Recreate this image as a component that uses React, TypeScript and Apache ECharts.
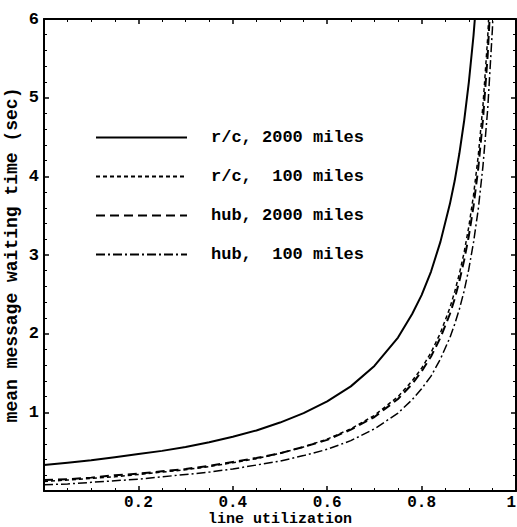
import React, { useEffect, useRef } from "react";
import * as echarts from "echarts";

const utilization = [0, 0.05, 0.1, 0.15, 0.2, 0.25, 0.3, 0.35, 0.4, 0.45, 0.5, 0.55, 0.6, 0.65, 0.7, 0.75, 0.78, 0.8, 0.82, 0.84, 0.86, 0.87, 0.88, 0.89, 0.9, 0.91, 0.92, 0.93, 0.94, 0.95, 0.96];

const rc2000 = [0.33, 0.36, 0.39, 0.43, 0.47, 0.51, 0.56, 0.62, 0.69, 0.77, 0.87, 0.99, 1.14, 1.33, 1.59, 1.95, 2.25, 2.49, 2.79, 3.17, 3.65, 3.94, 4.29, 4.7, 5.19, 5.79, 6.54];
const rc100 = [0.12, 0.14, 0.16, 0.18, 0.21, 0.24, 0.27, 0.31, 0.36, 0.41, 0.48, 0.56, 0.66, 0.79, 0.96, 1.2, 1.4, 1.56, 1.76, 2.01, 2.33, 2.53, 2.76, 3.03, 3.36, 3.76, 4.26, 4.9, 5.76, 6.96];
const hub2000 = [0.14, 0.15, 0.17, 0.2, 0.22, 0.25, 0.28, 0.32, 0.37, 0.42, 0.48, 0.56, 0.65, 0.78, 0.94, 1.17, 1.36, 1.52, 1.71, 1.95, 2.25, 2.44, 2.67, 2.93, 3.24, 3.62, 4.1, 4.72, 5.54, 6.69];
const hub100 = [0.08, 0.09, 0.11, 0.13, 0.15, 0.18, 0.21, 0.24, 0.28, 0.33, 0.38, 0.45, 0.53, 0.64, 0.79, 0.99, 1.16, 1.3, 1.46, 1.68, 1.95, 2.12, 2.31, 2.54, 2.82, 3.16, 3.58, 4.13, 4.85, 5.87, 7.4];

const seriesNames = ["r/c, 2000 miles", "r/c,  100 miles", "hub, 2000 miles", "hub,  100 miles"];
const seriesValues = [rc2000, rc100, hub2000, hub100];
const dashStyles: any[] = ["solid", [4, 3], [9, 5], [9, 3, 2, 3]];
const lineWidths = [2, 1.5, 2, 1.5];

const FONT = "'Liberation Mono', 'DejaVu Sans Mono', monospace";

export default function App() {
  const ref = useRef<HTMLDivElement>(null);
  useEffect(() => {
    if (!ref.current) return;
    const chart = echarts.init(ref.current, null, { renderer: "svg" });
    const labelStyle = { color: "#000", fontFamily: FONT, fontWeight: "bold" as const, fontSize: 17 };
    const frameAxis = {
      axisLine: { show: true, onZero: false, lineStyle: { color: "#000", width: 2 } },
      axisTick: { show: true, inside: true, length: 5, lineStyle: { color: "#000", width: 1.5 } },
      splitLine: { show: false },
      minorSplitLine: { show: false },
    };
    chart.setOption({
      animation: false,
      backgroundColor: "#fff",
      grid: { left: 44, right: 1, top: 19, bottom: 36, containLabel: false, outerBoundsMode: "none" },
      legend: {
        orient: "vertical",
        left: 90,
        top: 124,
        itemWidth: 91,
        itemHeight: 14,
        itemGap: 22,
        selectedMode: false,
        data: seriesNames,
        itemStyle: { opacity: 0 },
        textStyle: { ...labelStyle, fontSize: 17, lineHeight: 14, padding: [0, 0, 0, 19] },
      },
      xAxis: [
        {
          type: "value",
          min: 0,
          max: 1,
          interval: 0.2,
          name: "line utilization",
          nameLocation: "middle",
          nameGap: 21,
          nameMoveOverlap: false,
          nameTextStyle: { ...labelStyle, fontSize: 15, lineHeight: 15 },
          axisLabel: {
            ...labelStyle,
            fontSize: 16,
            lineHeight: 16,
            margin: 4,
            alignMaxLabel: "right",
            formatter: (v: number) => (v === 0 ? "" : String(v)),
          },
          ...frameAxis,
          minorTick: { show: true, splitNumber: 4, length: 3, lineStyle: { color: "#000", width: 1 } },
        },
        {
          type: "value",
          position: "top",
          min: 0,
          max: 1,
          interval: 0.2,
          axisLabel: { show: false },
          ...frameAxis,
          minorTick: { show: true, splitNumber: 4, length: 3, lineStyle: { color: "#000", width: 1 } },
        },
      ],
      yAxis: [
        {
          type: "value",
          min: 0,
          max: 6,
          interval: 1,
          name: "mean message waiting time (sec)",
          nameLocation: "middle",
          nameGap: 23,
          nameMoveOverlap: false,
          nameTextStyle: { ...labelStyle, fontSize: 18 },
          axisLabel: { ...labelStyle, margin: 5, formatter: (v: number) => (v === 0 ? "" : String(v)) },
          ...frameAxis,
          minorTick: { show: true, splitNumber: 5, length: 3, lineStyle: { color: "#000", width: 1 } },
        },
        {
          type: "value",
          position: "right",
          min: 0,
          max: 6,
          interval: 1,
          axisLabel: { show: false },
          ...frameAxis,
          minorTick: { show: true, splitNumber: 5, length: 3, lineStyle: { color: "#000", width: 1 } },
        },
      ],
      series: seriesNames.map((name, i) => ({
        name,
        type: "line",
        xAxisIndex: 0,
        yAxisIndex: 0,
        symbol: "none",
        clip: true,
        color: "#000",
        lineStyle: { color: "#000", width: lineWidths[i], type: dashStyles[i] },
        data: seriesValues[i].map((y, j) => [utilization[j], y]),
      })),
    });
    return () => chart.dispose();
  }, []);
  return <div ref={ref} style={{ position: "fixed", left: 0, top: 0, width: 517, height: 527 }} />;
}
